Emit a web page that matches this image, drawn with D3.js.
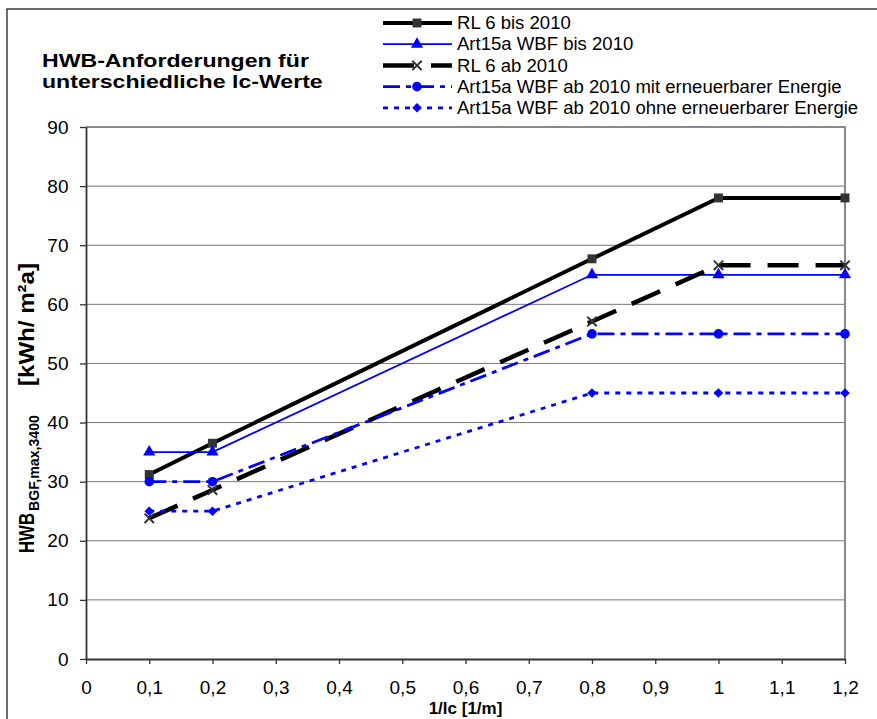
<!DOCTYPE html>
<html>
<head>
<meta charset="utf-8">
<script src="https://cdn.jsdelivr.net/npm/d3@7"></script>
<style>
  body { margin: 0; background: #fff; }
  text { font-family: "Liberation Sans", Arial, sans-serif; fill: #000; }
</style>
</head>
<body>
<div id="chart-area"></div>
<script>
// values
const xValues = [0.1, 0.2, 0.8, 1.0, 1.2];
const rl6Bis = [31.2, 36.5, 67.7, 78, 78];
const art15aBis = [35, 35, 65, 65, 65];
const rl6Ab = [23.8, 28.6, 57.1, 66.6, 66.6];
const art15aMit = [30, 30, 55, 55, 55];
const art15aOhne = [25, 25, 45, 45, 45];
const seriesNames = [
  "RL 6 bis 2010",
  "Art15a WBF bis 2010",
  "RL 6 ab 2010",
  "Art15a WBF ab 2010 mit erneuerbarer Energie",
  "Art15a WBF ab 2010 ohne erneuerbarer Energie"
];
const xTickValues = [0, 0.1, 0.2, 0.3, 0.4, 0.5, 0.6, 0.7, 0.8, 0.9, 1, 1.1, 1.2];
const yTickValues = [0, 10, 20, 30, 40, 50, 60, 70, 80, 90];

const canvas_dims = { width: 877, height: 719 };
const margins = { top: 127, right: 32, bottom: 60, left: 86 };
const content_dims = {
  width: canvas_dims.width - margins.left - margins.right,
  height: canvas_dims.height - margins.top - margins.bottom
};

const styles = [
  { color: "#000", width: 4, dash: null, marker: "square" },
  { color: "#0000ff", width: 1.8, dash: null, marker: "triangle" },
  { color: "#000", width: 4.5, dash: "31,17", marker: "cross" },
  { color: "#0000ff", width: 2.8, dash: "17,6,5,6", marker: "circle" },
  { color: "#0000ff", width: 2.8, dash: "5,6", marker: "diamond" }
];
const seriesValues = [rl6Bis, art15aBis, rl6Ab, art15aMit, art15aOhne];

// the original's text is a bit wider than the font would give, so stretch it
function stretch(sel, k) {
  sel.each(function() {
    const len = this.getComputedTextLength();
    d3.select(this)
      .attr("textLength", len * k)
      .attr("lengthAdjust", "spacingAndGlyphs");
  });
}

const svg = d3
  .select("#chart-area")
  .append("svg")
  .attr("width", canvas_dims.width)
  .attr("height", canvas_dims.height);

// outer chart frame (runs off the right and bottom edge)
svg
  .append("rect")
  .attr("x", 7)
  .attr("y", 9)
  .attr("width", 900)
  .attr("height", 800)
  .attr("fill", "none")
  .attr("stroke", "#222")
  .attr("stroke-width", 1.3);

const group = svg
  .append("g")
  .attr("transform", `translate(${margins.left},${margins.top})`);

const x = d3.scaleLinear().domain([0, 1.2]).range([0, content_dims.width]);
const y = d3.scaleLinear().domain([0, 90]).range([content_dims.height, 0]);

const comma = d => d3.format("~g")(+d.toFixed(1)).replace(".", ",");

// gridlines
group
  .append("g")
  .selectAll("line")
  .data(yTickValues.filter(d => d > 0 && d < 90))
  .enter()
  .append("line")
  .attr("x1", 0)
  .attr("x2", content_dims.width)
  .attr("y1", d => y(d))
  .attr("y2", d => y(d))
  .attr("stroke", "#777")
  .attr("stroke-width", 1);

// plot area top / right border
group
  .append("path")
  .attr("d", `M0,${y(90)}H${x(1.2)}V${y(0)}`)
  .attr("fill", "none")
  .attr("stroke", "#888")
  .attr("stroke-width", 2);

// axes
const yAxis = d3.axisLeft(y).tickValues(yTickValues).tickSize(6).tickSizeOuter(0);
const yAxisG = group.append("g").attr("class", "left axis").call(yAxis);
const xAxis = d3
  .axisBottom(x)
  .tickValues(xTickValues)
  .tickFormat(comma)
  .tickSize(5)
  .tickSizeOuter(0);
const xAxisG = group
  .append("g")
  .attr("class", "bottom axis")
  .attr("transform", `translate(0,${content_dims.height})`)
  .call(xAxis);

[yAxisG, xAxisG].forEach(g => {
  g.select(".domain").attr("stroke", "#333").attr("stroke-width", 1.8);
  g.selectAll(".tick line").attr("stroke", "#333").attr("stroke-width", 1.3);
  g.selectAll(".tick text")
    .attr("font-size", "19px")
    .attr("font-family", "Liberation Sans, Arial, sans-serif")
    .attr("fill", "#000");
});
yAxisG.selectAll(".tick text").attr("x", -17.5);
xAxisG.selectAll(".tick text").attr("y", 22);

// series
const line = d3
  .line()
  .x((d, i) => x(xValues[i]))
  .y(d => y(d));

const symbolFor = {
  square: d3.symbol().type(d3.symbolSquare).size(80),
  triangle: d3.symbol().type(d3.symbolTriangle).size(64),
  circle: d3.symbol().type(d3.symbolCircle).size(72),
  diamond: d3.symbol().type(d3.symbolSquare).size(46),
  cross: d3.symbol().type(d3.symbolX).size(60)
};

function drawMarker(sel, st) {
  if (st.marker === "cross") {
    sel
      .append("path")
      .attr("d", symbolFor.cross())
      .attr("fill", "none")
      .attr("stroke", "#333")
      .attr("stroke-width", 2);
  } else {
    sel
      .append("path")
      .attr("d", symbolFor[st.marker]())
      .attr("transform", st.marker === "diamond" ? "rotate(45)" : null)
      .attr("fill", st.marker === "square" ? "#333" : st.color);
  }
}

seriesValues.forEach((vals, s) => {
  const st = styles[s];
  const sg = group.append("g").attr("class", "series");
  sg.append("path")
    .datum(vals)
    .attr("d", line)
    .attr("fill", "none")
    .attr("stroke", st.color)
    .attr("stroke-width", st.width)
    .attr("stroke-dasharray", st.dash)
    .attr("stroke-linejoin", "round");
  sg.selectAll("g.marker")
    .data(vals)
    .enter()
    .append("g")
    .attr("class", "marker")
    .attr("transform", (d, i) => `translate(${x(xValues[i])},${y(d)})`)
    .each(function() {
      drawMarker(d3.select(this), st);
    });
});

// legend
const legend = svg.append("g").attr("transform", "translate(383,23)");
seriesNames.forEach((name, s) => {
  const st = styles[s];
  const row = legend.append("g").attr("transform", `translate(0,${s * 21.2})`);
  row
    .append("line")
    .attr("x1", 0)
    .attr("x2", 69)
    .attr("stroke", st.color)
    .attr("stroke-width", st.width)
    .attr("stroke-dasharray", st.dash);
  drawMarker(row.append("g").attr("transform", "translate(34,0)"), st);
  row
    .append("text")
    .attr("class", "legend-label")
    .attr("x", 74)
    .attr("dy", "0.35em")
    .attr("font-size", "17.5px")
    .text(name);
});
stretch(legend.selectAll("text"), 1.06);

// title
const titleLines = ["HWB-Anforderungen für", "unterschiedliche lc-Werte"];
svg
  .selectAll("text.title")
  .data(titleLines)
  .enter()
  .append("text")
  .attr("class", "title")
  .attr("x", 42)
  .attr("y", (d, i) => 67 + i * 21)
  .attr("font-size", "17.5px")
  .attr("font-weight", "bold")
  .text(d => d);
stretch(svg.selectAll("text.title"), 1.32);

// y axis-label, built from pieces along the rotated baseline
const yLabel = svg
  .append("g")
  .attr("transform", "translate(34,553) scale(1.25,1) rotate(-90)")
  .attr("font-weight", "bold");
yLabel
  .append("text")
  .attr("font-size", "17px")
  .attr("font-weight", "bold")
  .attr("textLength", 40)
  .attr("lengthAdjust", "spacingAndGlyphs")
  .text("HWB");
yLabel
  .append("text")
  .attr("x", 42)
  .attr("y", 4)
  .attr("font-size", "12px")
  .attr("font-weight", "bold")
  .attr("textLength", 96)
  .attr("lengthAdjust", "spacingAndGlyphs")
  .text("BGF,max,3400");
yLabel
  .append("text")
  .attr("x", 167)
  .attr("font-size", "17.5px")
  .attr("font-weight", "bold")
  .attr("textLength", 123)
  .attr("lengthAdjust", "spacingAndGlyphs")
  .text("[kWh/ m²a]");

// x axis-label
svg
  .append("text")
  .attr("x", margins.left + x(0.6))
  .attr("y", 714)
  .attr("text-anchor", "middle")
  .attr("font-size", "17px")
  .attr("font-weight", "bold")
  .text("1/lc [1/m]");
</script>
</body>
</html>
